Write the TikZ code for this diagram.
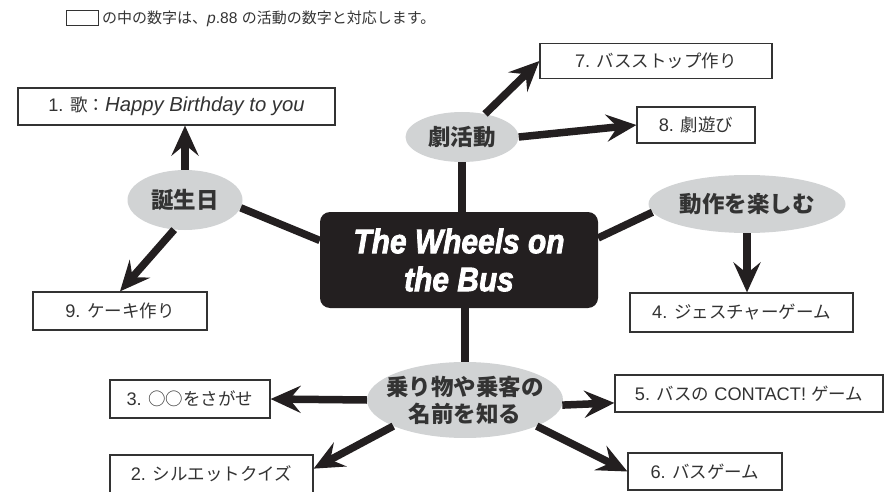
\documentclass[tikz,border=0pt]{standalone}
\usepackage{fontspec}
\usepackage{graphicx}
\usetikzlibrary{arrows.meta,shapes.geometric}
\setmainfont{Noto Sans CJK JP}
\newfontfamily\lat{Liberation Sans}[Scale=1.04]
\newfontfamily\titlefont{Liberation Sans}[BoldItalicFeatures={FakeBold=2.5}]
\definecolor{ink}{RGB}{35,31,32}
\definecolor{txt}{RGB}{51,51,51}
\definecolor{ellgray}{RGB}{209,211,212}
\begin{document}
\begin{tikzpicture}[x=1pt,y=-1pt,
  box/.style={draw=txt, line width=1.2pt, fill=white, text=txt, font=\fontsize{17.5}{20}\selectfont, inner sep=0pt},
  topic/.style={ellipse, fill=ellgray, inner sep=0pt},
  topictext/.style={text=txt, font=\fontsize{22.5}{27}\selectfont\bfseries, align=center},
  link/.style={line width=7.5pt, draw=ink},
  arr/.style={line width=7.5pt, draw=ink, -{Stealth[length=30pt,width=27pt,inset=11pt]}},
]
\useasboundingbox (0,0) rectangle (892,492);
% header
\node[draw=txt, line width=1pt, minimum width=32pt, minimum height=15pt, inner sep=0pt] (hbox) at (82,18.5) {};
\node[anchor=west, text=txt, font=\fontsize{15}{17}\selectfont, inner sep=0pt] (htext) at (102,18.5) {の中の数字は、{\lat\itshape p}{\lat .88 }の活動の数字と対応します。};
% centre
\node[fill=ink, rounded corners=10pt, minimum width=278pt, minimum height=96pt, inner sep=0pt, text=white, align=center,
  font=\titlefont\bfseries\itshape\fontsize{34}{38}\selectfont] (title) at (459,260)
  {\scalebox{0.88}[1]{The Wheels on}\\\scalebox{0.88}[1]{the Bus}};
% topics
\node[topic, minimum width=113pt, minimum height=50pt, label={[topictext]center:劇活動}] (geki) at (462,137) {};
\node[topic, minimum width=197pt, minimum height=58pt, label={[topictext]center:動作を楽しむ}] (dosa) at (747,204) {};
\node[topic, minimum width=115pt, minimum height=60pt, label={[topictext]center:誕生日}] (tanjo) at (185,200) {};
\node[topic, minimum width=196pt, minimum height=76pt, label={[topictext]center:乗り物や乗客の\\名前を知る}] (nori) at (465,400) {};
% boxes
\node[box, minimum width=317pt, minimum height=37pt] (b1) at (176.5,106.5) {{\lat 1. }歌：{\lat\itshape\fontsize{19.5}{22}\selectfont Happy Birthday to you}};
\node[box, minimum width=232pt, minimum height=35pt] (b7) at (656,61) {{\lat 7. }バスストップ作り};
\node[box, minimum width=118pt, minimum height=36pt] (b8) at (696,125) {{\lat 8. }劇遊び};
\node[box, minimum width=223pt, minimum height=39pt] (b4) at (741.5,312.5) {{\lat 4. }ジェスチャーゲーム};
\node[box, minimum width=174pt, minimum height=38pt] (b9) at (120,311) {{\lat 9. }ケーキ作り};
\node[box, minimum width=160pt, minimum height=38pt] (b3) at (190,399) {{\lat 3. }○○をさがせ};
\node[box, minimum width=203pt, minimum height=38pt] (b2) at (211.5,474) {{\lat 2. }シルエットクイズ};
\node[box, minimum width=268pt, minimum height=37pt] (b5) at (749,393.5) {{\lat 5. }バスの{\lat\ CONTACT! }ゲーム};
\node[box, minimum width=154pt, minimum height=37pt] (b6) at (705,471.5) {{\lat 6. }バスゲーム};
% links
\draw[link] (geki.south) -- (geki.south |- title.north);
\draw[link] (nori.north) -- (nori.north |- title.south);
\draw[link] (tanjo.-8) -- (title.172);
\draw[link] (dosa.185) -- (title.9);
% arrows
\draw[arr] (tanjo.north) -- (tanjo.north |- b1.south);
\draw[arr] (tanjo.250) -- (b9.north);
\draw[arr] (geki.45) -- (b7.west);
\draw[arr] (geki.east) -- (b8.west);
\draw[arr] (dosa.south) -- (dosa.south |- b4.north);
\draw[arr] (nori.west) -- (b3.east);
\draw[arr] (nori.200) -- (b2.3);
\draw[arr] (nori.-3) -- (b5.184);
\draw[arr] (nori.-20) -- (b6.west);
\end{tikzpicture}
\end{document}
